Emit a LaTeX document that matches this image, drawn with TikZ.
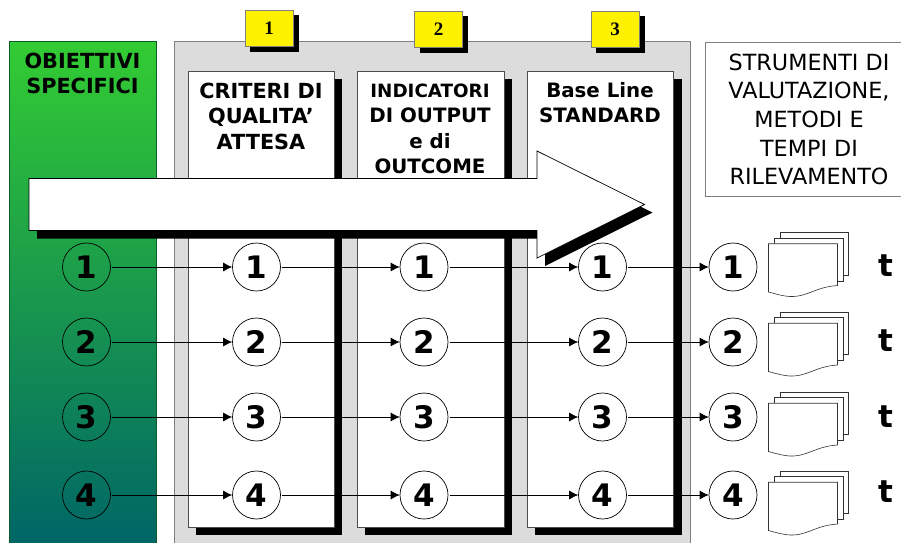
\documentclass[tikz,border=0pt]{standalone}
\usepackage{fontspec}
\setmainfont{DejaVu Sans}
\newfontfamily\numfont{DejaVu Sans}
\newfontfamily\serfont{Liberation Serif}
\usetikzlibrary{arrows.meta}
\definecolor{edgegray}{HTML}{808080}
\definecolor{panelgray}{HTML}{DCDCDC}
\definecolor{limetop}{HTML}{33CC33}
\definecolor{tealbot}{HTML}{006666}
\definecolor{greenedge}{HTML}{0B5A2A}
\tikzset{
  circ/.style={circle,draw=black,line width=0.7pt,minimum size=48pt,inner sep=0pt,font=\numfont\bfseries\fontsize{31}{31}\selectfont},
  wcirc/.style={circ,fill=white},
  conn/.style={draw=black,line width=0.7pt,shorten <=1.5pt,-{Latex[length=9pt,width=9pt]}},
  column/.style={fill=white,draw=black!70,line width=0.8pt},
  shadowfill/.style={fill=black,draw=none},
  head/.style={anchor=north,align=center,font=\bfseries\fontsize{20.8}{25.2}\selectfont,inner sep=0pt},
  headsm/.style={head,font=\bfseries\fontsize{19.8}{25.2}\selectfont},
  tag/.style={draw=edgegray,fill=yellow,line width=0.8pt,minimum width=48.5pt,minimum height=36.5pt,inner sep=0pt,font=\serfont\bfseries\fontsize{19}{19}\selectfont},
  sheet/.style={fill=white,draw=black!80,line width=0.6pt},
  tlab/.style={inner sep=0pt,font=\numfont\bfseries\fontsize{31}{31}\selectfont}
}
\newcommand{\docstack}[1]{%
  \begin{scope}[yshift=#1]
    \draw[sheet] (780,232.5) rectangle (848.5,275);
    \draw[sheet] (774.5,238) rectangle (843,281);
    \draw[sheet] (768.5,243.7) -- (837.5,243.7) -- (837.5,285.5)
       .. controls (815,287) and (808,297) .. (790,296.5)
       .. controls (782,296) and (776,294) .. (768.5,292) -- cycle;
  \end{scope}}
\begin{document}
\begin{tikzpicture}[x=1pt,y=-1pt]
\useasboundingbox (0,0) rectangle (901,542);
% green panel
\draw[draw=greenedge,line width=0.8pt,top color=limetop,bottom color=tealbot] (9.7,41) rectangle (156.3,543);
% grey panel
\draw[fill=panelgray,draw=edgegray,line width=0.9pt] (174,41) rectangle (690,543);
% columns
\foreach \xa/\xb in {188/334,357/504,527/673.6}{
  \fill[shadowfill] (\xa+8,79) rectangle (\xb+8,535);
  \draw[column] (\xa,71) rectangle (\xb,527);
}
% yellow tags
\fill[shadowfill] (250,15) rectangle (298.5,51.5);
\fill[shadowfill] (419.5,16) rectangle (467.5,52.5);
\fill[shadowfill] (596,16) rectangle (644.5,52.5);
\node[tag] (tag1) at (269.2,28.2) {1};
\node[tag] (tag2) at (438.5,29.2) {2};
\node[tag] (tag3) at (615.2,29.2) {3};
% right box
\draw[fill=white,draw=edgegray,line width=0.9pt] (705.5,42) rectangle (903,196);
% headings
\node[head] (hobj) at (82.5,53) {OBIETTIVI\\SPECIFICI};
\node[head] (hcrit) at (261,83) {CRITERI DI\\QUALITA’\\ATTESA};
\node[headsm] (hind) at (430,84) {{\fontsize{18.3}{25.2}\selectfont INDICATORI}\\DI OUTPUT\\e di\\OUTCOME};
\node[headsm] (hbase) at (600,82.5) {Base Line\\STANDARD};
\node[anchor=north,align=center,inner sep=0pt,font=\fontsize{22.3}{28.6}\selectfont] (hstr) at (809,53.5) {STRUMENTI DI\\VALUTAZIONE,\\METODI E\\TEMPI DI\\RILEVAMENTO};
% big arrow
\fill[shadowfill] (37,186.5) -- (545,186.5) -- (545,159) -- (652.5,212.5) -- (545,266) -- (545,238.5) -- (37,238.5) -- cycle;
\draw[fill=white,draw=black,line width=0.7pt] (29,178.5) -- (537,178.5) -- (537,151) -- (644.5,204.5) -- (537,258) -- (537,230.5) -- (29,230.5) -- cycle;
% doc stacks
\docstack{0pt}\docstack{-79.5pt}\docstack{-159.5pt}\docstack{-238.5pt}
% circles
\foreach \n/\y/\ty in {1/267/266,2/342/341,3/417/417,4/495/492}{
  \node[circ]  (a\n) at (86.5,\y) {\n};
  \node[wcirc] (b\n) at (256.5,\y) {\n};
  \node[wcirc] (c\n) at (424,\y) {\n};
  \node[wcirc] (d\n) at (602.5,\y) {\n};
  \node[wcirc] (e\n) at (733,\y) {\n};
  \node[tlab]  (t\n) at (886,\ty) {t};
  \draw[conn] (a\n) -- (b\n);
  \draw[conn] (b\n) -- (c\n);
  \draw[conn] (c\n) -- (d\n);
  \draw[conn] (d\n) -- (e\n);
}
\end{tikzpicture}
\end{document}
